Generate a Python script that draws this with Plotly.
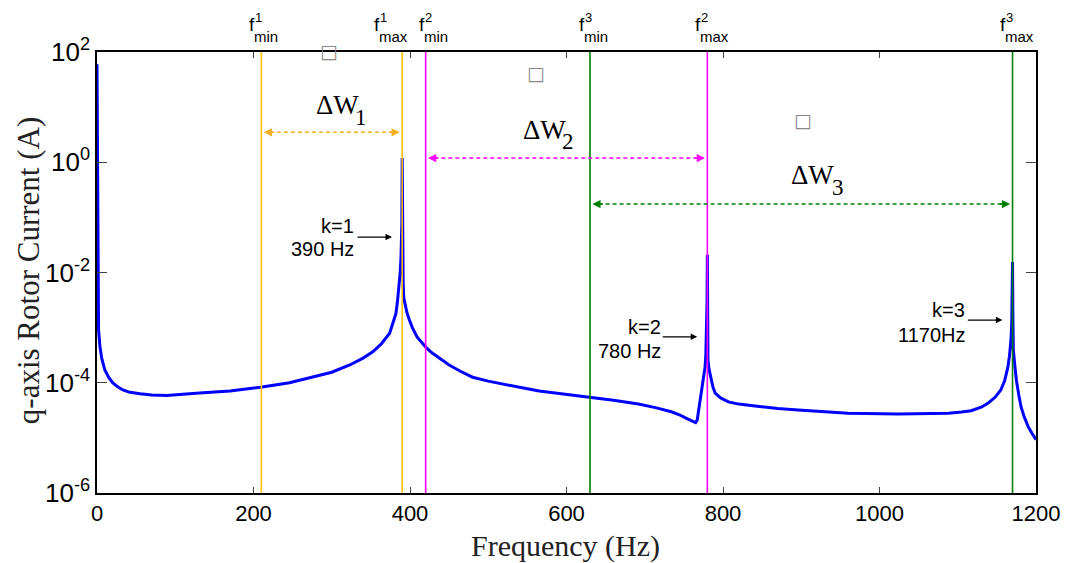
import math
import plotly.graph_objects as go

# ---------------- data ----------------
freq_hz = [0, 0.3, 0.6, 0.9, 1.2, 2, 3.8, 6, 10, 15, 20, 26, 33, 42, 55, 70, 89, 110, 131,
           170, 209, 246, 288, 300, 323, 340, 352, 363, 374, 378, 382, 384, 386, 387.5, 388.5,
           389.2, 389.6, 390, 390.4, 390.8, 391.3, 392, 394, 396, 399, 403, 409, 415, 421, 428,
           437, 450, 465, 480, 500, 523, 545, 565, 600, 629, 660, 692, 715, 735, 745, 752, 758,
           762, 765, 767, 769, 771, 773, 775, 777, 778, 779, 779.6, 780, 780.4, 780.8, 782, 784,
           787, 790, 797, 807, 820, 841, 870, 896, 930, 960, 1024, 1088, 1105, 1117, 1130, 1139,
           1148, 1155, 1160, 1164, 1166, 1168, 1169, 1169.6, 1170, 1170.4, 1171, 1173, 1175,
           1178, 1181, 1185, 1190, 1195, 1200]
current_a = [60, 3, 0.1, 8e-3, 1.8e-3, 9e-4, 4.5e-4, 2.8e-4, 1.7e-4, 1.25e-4, 1.0e-4, 8.5e-5,
             7.4e-5, 6.7e-5, 6.3e-5, 6.0e-5, 5.9e-5, 6.1e-5, 6.5e-5,
             7.1e-5, 8.3e-5, 1.0e-4, 1.38e-4, 1.55e-4, 2.1e-4, 2.8e-4, 3.6e-4, 5.0e-4, 7.9e-4,
             1.15e-3, 1.8e-3, 3.0e-3, 5.4e-3, 1.0e-2, 1.9e-2,
             4e-2, 8e-2, 1.2, 5e-2, 1.2e-2, 6e-3, 3.5e-3, 2.4e-3, 1.9e-3, 1.4e-3, 1.0e-3,
             6.8e-4, 5.3e-4, 4.3e-4, 3.5e-4,
             2.8e-4, 2.1e-4, 1.6e-4, 1.26e-4, 1.07e-4, 9.1e-5, 8.0e-5, 7.1e-5, 6.2e-5, 5.5e-5,
             4.8e-5, 4.1e-5, 3.5e-5, 2.95e-5, 2.6e-5, 2.3e-5, 2.1e-5,
             1.95e-5, 1.9e-5, 2.1e-5, 3.2e-5, 4.8e-5, 7e-5, 1.1e-4, 1.9e-4, 3.0e-4, 8e-4,
             3e-3, 2.1e-2, 1.5e-3, 2.6e-4, 1.8e-4, 1.26e-4,
             8.5e-5, 6.5e-5, 5.3e-5, 4.5e-5, 4.1e-5, 3.8e-5, 3.4e-5, 3.2e-5, 3.0e-5, 2.8e-5,
             2.7e-5, 2.8e-5, 2.95e-5, 3.1e-5, 3.6e-5, 4.3e-5,
             5.5e-5, 7.4e-5, 1.1e-4, 1.9e-4, 3.0e-4, 5.9e-4, 1.2e-3, 3.2e-3, 1.55e-2, 2e-3,
             4.0e-4, 2e-4, 1.1e-4,
             6e-5, 3.6e-5, 2.4e-5, 1.6e-5, 1.2e-5, 9.3e-6]

# sideband windows k = 1, 2, 3
band_k = [1, 2, 3]
band_fmin = [210, 420, 630]
band_fmax = [390, 780, 1170]
band_arrow_amp = [3.5, 1.19, 0.174]
band_labels = ["ΔW", "ΔW", "ΔW"]

# resonance annotations
peak_k_text = ["k=1", "k=2", "k=3"]
peak_f_text = ["390 Hz", "780 Hz", "1170Hz"]
peak_arrow_amp = [0.044, 6.8e-4, 1.37e-3]

x_ticks = [0, 200, 400, 600, 800, 1000, 1200]
y_tickvals = [1e-6, 1e-4, 1e-2, 1e0, 1e2]
y_ticktext = ["10<sup>-6</sup>", "10<sup>-4</sup>", "10<sup>-2</sup>", "10<sup>0</sup>", "10<sup>2</sup>"]

# ---------------- styling ----------------
W, H = 1072, 563
L, R, T, B = 97, 34, 52, 70
PW, PH = W - L - R, H - T - B
band_colors = ["#FFC000", "#FF00FF", "#008000"]
arrow_colors = ["#F0B020", "#FF00FF", "#008000"]
SANS = "Liberation Sans, Arial, sans-serif"
SERIF = "Liberation Serif, Times New Roman, serif"


def px(xp, yp):
    return (xp - L) / PW, (H - B - yp) / PH


def text_ann(xp, yp, txt, font, xanchor="center", yanchor="middle", **kw):
    xa, ya = px(xp, yp)
    d = dict(x=xa, y=ya, xref="paper", yref="paper", text=txt, showarrow=False,
             xanchor=xanchor, yanchor=yanchor, borderpad=0, font=font)
    d.update(kw)
    return d


fig = go.Figure()
fig.add_trace(go.Scatter(x=freq_hz, y=current_a, mode="lines",
                         line=dict(color="#0000FF", width=3), showlegend=False))

# vertical window limits
for fmin, fmax, c in zip(band_fmin, band_fmax, band_colors):
    for f in (fmin, fmax):
        fig.add_trace(go.Scatter(x=[f, f], y=[1e-6, 1e2], mode="lines",
                                 line=dict(color=c, width=1.6), showlegend=False))

annotations = []
# dashed double arrows
for fmin, fmax, amp, c in zip(band_fmin, band_fmax, band_arrow_amp, arrow_colors):
    x0, x1 = fmin + 3, fmax - 3
    fig.add_trace(go.Scatter(x=[x0 + 8, x1 - 8], y=[amp, amp], mode="lines",
                             line=dict(color=c, width=1.5, dash="4px,3px"), showlegend=False))
    for xt, axo in ((x0, 12), (x1, -12)):
        annotations.append(dict(x=xt, y=math.log10(amp), xref="x", yref="y", text="",
                                showarrow=True, arrowhead=2, arrowsize=1.1, arrowwidth=1.5,
                                arrowcolor=c, ax=axo, ay=0))

# ΔW labels
dw_pos = [((338, 105), (362, 117)), ((545, 130), (569, 141)), ((814, 175), (840, 187))]
for lab, k, (mp, sp) in zip(band_labels, band_k, dw_pos):
    annotations.append(text_ann(mp[0], mp[1], lab, dict(family=SERIF, size=27, color="black")))
    annotations.append(text_ann(sp[0], sp[1], str(k), dict(family=SERIF, size=23, color="black")))

# peak annotations
peak_text_pos = [(356, 226, 249), (663, 327, 351), (968, 310, 335)]
for fpk, amp, kt, ft, (xr, y1, y2) in zip(band_fmax, peak_arrow_amp, peak_k_text, peak_f_text, peak_text_pos):
    annotations.append(dict(x=fpk - 13, y=math.log10(amp), xref="x", yref="y", text="",
                            showarrow=True, arrowhead=2, arrowsize=1, arrowwidth=1.3,
                            arrowcolor="black", ax=-36, ay=0))
    for txt, yy in ((kt, y1), (ft, y2)):
        annotations.append(text_ann(xr, yy, txt, dict(family=SANS, size=20, color="black"),
                                    xanchor="right"))

# top labels f^k_min / f^k_max
top_f = [band_fmin[0], band_fmax[0], band_fmin[1], band_fmin[2], band_fmax[1], band_fmax[2]]
top_k = [1, 1, 2, 3, 2, 3]
top_sub = ["min", "max", "min", "min", "max", "max"]
top_shift = [-13, -29, -8, -12, -13, -14]
for f, k, sub, dx in zip(top_f, top_k, top_sub, top_shift):
    xl = L + f / 1200 * PW + dx
    for txt, xo, yc, size in (("f", 0, 25, 19), (str(k), 6, 18, 13), (sub, 5, 37, 15)):
        annotations.append(text_ann(xl + xo, yc, txt, dict(family=SANS, size=size, color="black"),
                                    xanchor="left"))

# missing-glyph boxes
for bx, by in ((329, 51), (537, 73), (805, 120)):
    annotations.append(text_ann(bx, by, "□", dict(family="DejaVu Sans", size=19, color="#888888")))

# axis titles
annotations.append(text_ann(566, 546, "Frequency (Hz)", dict(family=SERIF, size=30, color="#222222")))
annotations.append(text_ann(28, 271, "q-axis Rotor Current (A)",
                            dict(family=SERIF, size=31, color="#222222"), textangle=-90))

fig.update_layout(
    width=W, height=H,
    margin=dict(l=L, r=R, t=T, b=B, pad=0),
    paper_bgcolor="white", plot_bgcolor="white",
    showlegend=False,
    annotations=annotations,
    xaxis=dict(range=[0, 1200], tickvals=x_ticks, ticks="inside", ticklen=6, tickwidth=1,
               tickcolor="#444", showline=True, linecolor="black", linewidth=1.5, mirror="ticks",
               showgrid=False, zeroline=False,
               tickfont=dict(family=SANS, size=22, color="black")),
    yaxis=dict(type="log", range=[-6, 2], tickvals=y_tickvals, ticktext=y_ticktext,
               ticks="inside", ticklen=10, tickwidth=1, tickcolor="#444",
               showline=True, linecolor="black", linewidth=1.5, mirror="ticks",
               showgrid=False, zeroline=False,
               tickfont=dict(family=SANS, size=26, color="black")),
)

fig.write_html("out.html", config={"displayModeBar": False})
